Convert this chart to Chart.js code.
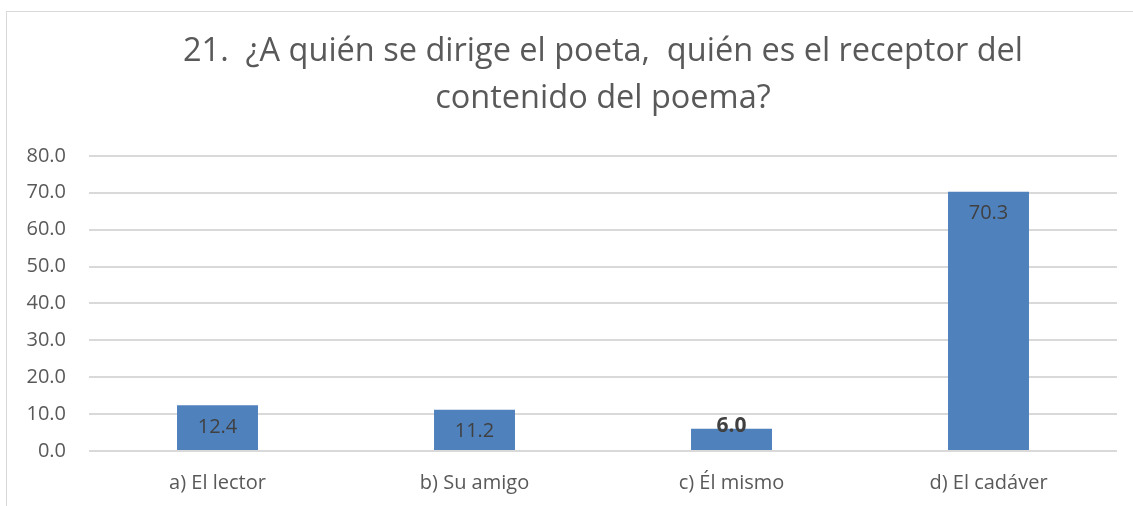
<!DOCTYPE html>
<html>
<head>
<meta charset="utf-8">
<script src="https://cdn.jsdelivr.net/npm/chart.js@4"></script>
<style>
    html, body { margin: 0; padding: 0; background: #fff; overflow: hidden; }
    #frame {
        position: absolute; left: 6px; top: 11px; width: 1200px; height: 600px;
        border: 1px solid #d9d9d9; box-sizing: border-box;
    }
    #wrap { position: absolute; left: 0; top: 0; width: 1194px; height: 506px; }
</style>
</head>
<body>
<div id="frame"></div>
<div id="wrap"><canvas id="chart"></canvas></div>
<script>
// chart data
const categories = ['a) El lector', 'b) Su amigo', 'c) Él mismo', 'd) El cadáver'];
const percentages = [12.4, 11.2, 6.0, 70.3];
const yTicks = [0, 10, 20, 30, 40, 50, 60, 70, 80];
const titleLines = ['21.  ¿A quién se dirige el poeta,  quién es el receptor del', 'contenido del poema?'];

const FONT = '"Open Sans", sans-serif';

// value labels drawn at the top of each bar (no datalabels plugin offline)
const barLabels = {
    id: 'barLabels',
    afterDatasetsDraw(chart) {
        const ctx = chart.ctx;
        const meta = chart.getDatasetMeta(0);
        ctx.save();
        ctx.textAlign = 'center';
        ctx.textBaseline = 'middle';
        meta.data.forEach(function (bar, i) {
            const h = bar.base - bar.y;
            let y = bar.y + 22;
            if (h < 30) {
                // too short: label sits over the top edge, bold like the original
                ctx.font = 'bold 21px ' + FONT;
                y = bar.y - 3;
            } else {
                ctx.font = '20px ' + FONT;
            }
            ctx.fillStyle = '#404040';
            ctx.fillText(percentages[i].toFixed(1), bar.x, y);
        });
        ctx.restore();
    }
};

const ctx = document.getElementById('chart').getContext('2d');
new Chart(ctx, {
    type: 'bar',
    data: {
        labels: categories,
        datasets: [{
            data: percentages,
            backgroundColor: '#4f81bd',
            barPercentage: 0.315,
            categoryPercentage: 1.0
        }]
    },
    options: {
        responsive: true,
        maintainAspectRatio: false,
        animation: false,
        layout: { padding: { left: 6, right: 77, top: 0, bottom: 0 } },
        plugins: {
            legend: { display: false },
            tooltip: { enabled: false },
            title: {
                display: true,
                fullSize: false,
                text: titleLines,
                color: '#595959',
                font: { family: FONT, size: 32.5, weight: 'normal', lineHeight: 1.46 },
                padding: { top: 28, bottom: 33 }
            }
        },
        scales: {
            x: {
                grid: { display: false, drawTicks: false },
                border: { display: false },
                ticks: { color: '#595959', font: { family: FONT, size: 20 }, padding: 20 },
                afterFit(scale) { scale.height = 55; }
            },
            y: {
                min: 0,
                max: 80,
                afterBuildTicks(scale) { scale.ticks = yTicks.map(v => ({ value: v })); },
                grid: { color: '#d9d9d9', lineWidth: 2, drawTicks: false },
                border: { display: false },
                ticks: {
                    color: '#595959',
                    font: { family: FONT, size: 20 },
                    padding: 23,
                    callback: v => v.toFixed(1)
                },
                afterFit(scale) { scale.width = 83; }
            }
        }
    },
    plugins: [barLabels]
});
</script>
</body>
</html>
